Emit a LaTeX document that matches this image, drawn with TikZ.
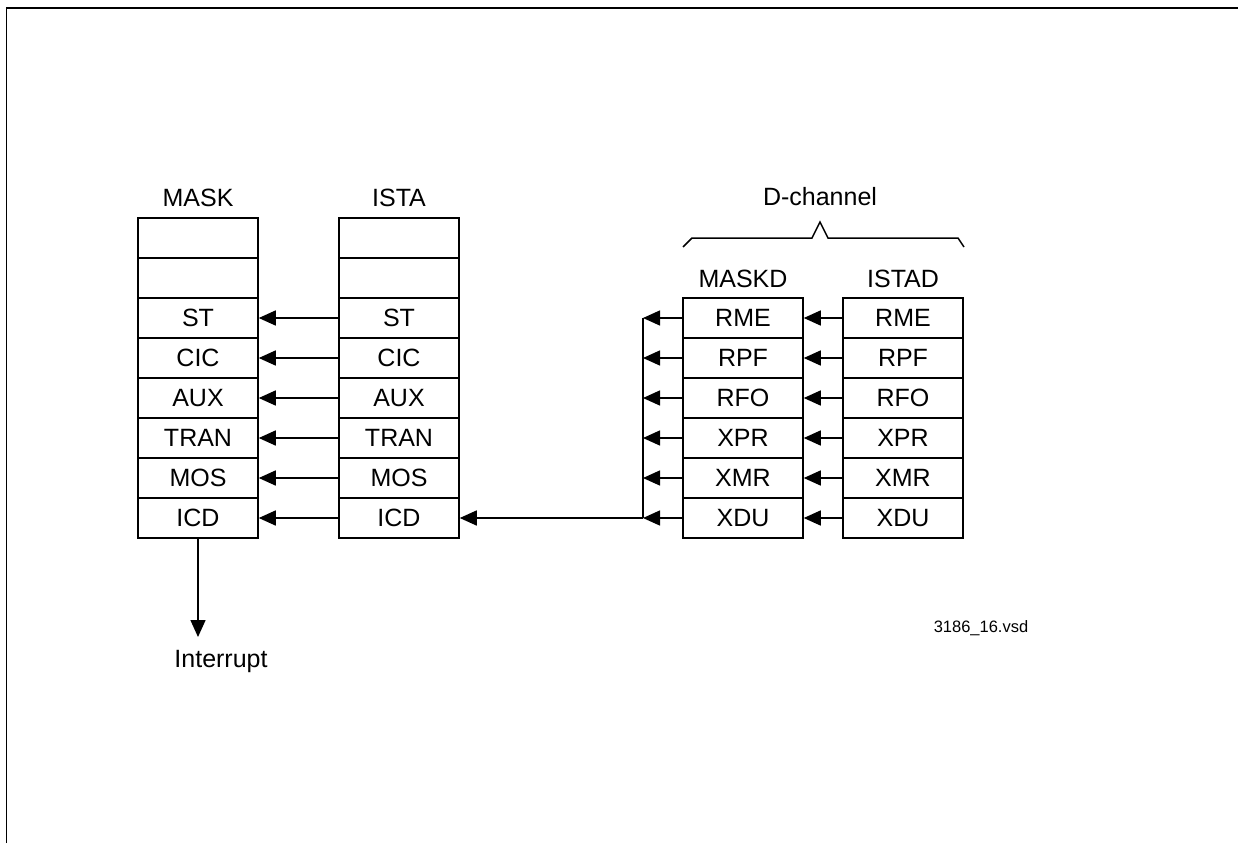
\documentclass[tikz,border=0pt]{standalone}
\usepackage{fontspec}
\setmainfont{Liberation Sans}
\usetikzlibrary{arrows.meta}
\begin{document}
\begin{tikzpicture}[x=1pt,y=-1pt,
  cell/.style={draw,line width=1.5pt,minimum width=120pt,minimum height=40pt,inner sep=0pt,font=\fontsize{25}{28}\selectfont},
  lbl/.style={inner sep=0pt,font=\fontsize{25}{28}\selectfont},
  arr/.style={line width=1.5pt,-{Triangle[length=17pt,width=15pt]}},
  ln/.style={line width=1.5pt}]
\useasboundingbox (0,0) rectangle (1238,843);
\draw[ln] (6.5,843) -- (6.5,8) -- (1238,8);
% MASK column
\node[lbl] (maskl) at (198,198) {MASK};
\node[cell] (m1) at (198,238) {};
\node[cell] (m2) at (198,278) {};
\node[cell] (m3) at (198,318) {ST};
\node[cell] (m4) at (198,358) {CIC};
\node[cell] (m5) at (198,398) {AUX};
\node[cell] (m6) at (198,438) {TRAN};
\node[cell] (m7) at (198,478) {MOS};
\node[cell] (m8) at (198,518) {ICD};
% ISTA column
\node[lbl] (istal) at (399,198) {ISTA};
\node[cell] (i1) at (399,238) {};
\node[cell] (i2) at (399,278) {};
\node[cell] (i3) at (399,318) {ST};
\node[cell] (i4) at (399,358) {CIC};
\node[cell] (i5) at (399,398) {AUX};
\node[cell] (i6) at (399,438) {TRAN};
\node[cell] (i7) at (399,478) {MOS};
\node[cell] (i8) at (399,518) {ICD};
\foreach \k in {3,...,8} {\draw[arr] (i\k.west) -- (m\k.east);}
% MASKD column
\node[lbl] (dch) at (820,197) {D-channel};
\draw[ln] (683,247) -- (692,238) -- (812,238) -- (820,222) -- (828,238) -- (958,238) -- (964,247);
\node[lbl] (maskdl) at (743,279) {MASKD};
\node[cell] (d1) at (743,318) {RME};
\node[cell] (d2) at (743,358) {RPF};
\node[cell] (d3) at (743,398) {RFO};
\node[cell] (d4) at (743,438) {XPR};
\node[cell] (d5) at (743,478) {XMR};
\node[cell] (d6) at (743,518) {XDU};
% ISTAD column
\node[lbl] (istadl) at (903,279) {ISTAD};
\node[cell] (s1) at (903,318) {RME};
\node[cell] (s2) at (903,358) {RPF};
\node[cell] (s3) at (903,398) {RFO};
\node[cell] (s4) at (903,438) {XPR};
\node[cell] (s5) at (903,478) {XMR};
\node[cell] (s6) at (903,518) {XDU};
\foreach \k in {1,...,6} {\draw[arr] (s\k.west) -- (d\k.east);}
% bus
\coordinate (bt) at (643,318);
\coordinate (bb) at (643,518);
\draw[ln] (bt) -- (bb);
\foreach \k in {1,...,6} {\draw[arr] (d\k.west) -- (d\k.west -| bt);}
\draw[arr] (bb) -- (i8.east);
% interrupt
\coordinate (intend) at (198,637);
\draw[arr] (m8.south) -- (intend);
\node[lbl] (intr) at (221,661) {Interrupt};
\node[inner sep=0pt,font=\fontsize{16.5}{19}\selectfont] (fn) at (981,628) {3186\_16.vsd};
\end{tikzpicture}
\end{document}
